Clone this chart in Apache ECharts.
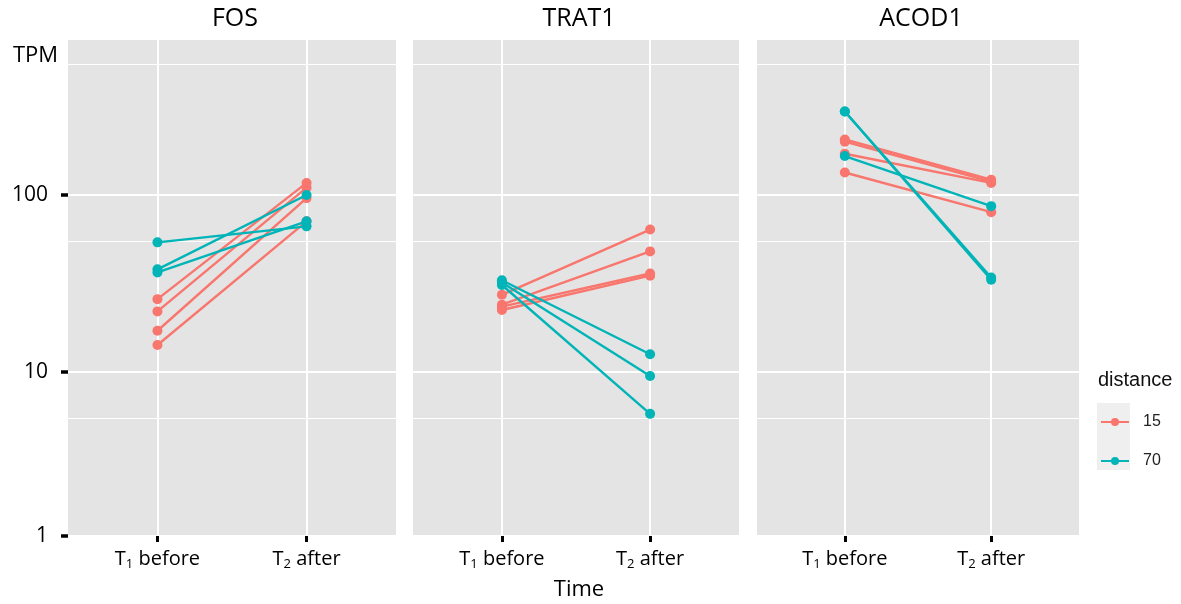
<!DOCTYPE html>
<html>
<head>
<meta charset="utf-8">
<script src="https://cdn.jsdelivr.net/npm/echarts@6/dist/echarts.min.js"></script>
<style>
  html, body { margin: 0; padding: 0; background: #fff; }
  #chart { width: 1181px; height: 604px; }
</style>
</head>
<body>
<div id="chart"></div>
<script>
// panels and x categories
var genes = ['FOS', 'TRAT1', 'ACOD1'];
var timeSub = ['1', '2'];
var timeWords = [' before', ' after'];
var distances = ['15', '70'];
var yTickLabels = ['1', '10', '100'];

// TPM values (T1 before -> T2 after)
var fosBefore15 = [25.8, 22.0, 17.1, 14.2];
var fosAfter15 = [117, 110, 96, 71];
var fosBefore70 = [54, 38, 36.5];
var fosAfter70 = [66.5, 100, 71];

var trat1Before15 = [27.3, 24.0, 23.4, 22.4];
var trat1After15 = [63.8, 48, 36, 35];
var trat1Before70 = [33, 32, 31];
var trat1After70 = [12.6, 9.5, 5.8];

var acod1Before15 = [206, 200, 171, 134];
var acod1After15 = [122, 119, 117, 80];
var acod1Before70 = [296, 296, 166];
var acod1After70 = [34.2, 33.2, 86.5];

var before15 = [fosBefore15, trat1Before15, acod1Before15];
var after15 = [fosAfter15, trat1After15, acod1After15];
var before70 = [fosBefore70, trat1Before70, acod1Before70];
var after70 = [fosAfter70, trat1After70, acod1After70];

var colors = { '15': '#F8766D', '70': '#00B4B7' };
var calibriLike = '"Open Sans", "Noto Sans", sans-serif';
var arialLike = '"Liberation Sans", Arial, sans-serif';

// y range of the panel (log scale), a bit wider than 1..1000 like ggplot
var yMin = 1.184, yMax = 751;

var panels = [
  { left: 68, width: 328 },
  { left: 413, width: 326 },
  { left: 757, width: 322 }
];

var grids = [], xAxes = [], yAxes = [], series = [], titles = [];

panels.forEach(function (p, g) {
  grids.push({
    left: p.left, top: 40, width: p.width, height: 496,
    show: true, backgroundColor: '#E4E4E4', borderWidth: 0
  });
  titles.push({
    text: genes[g], left: p.left + p.width / 2 + 3, top: 6, textAlign: 'center', padding: 0,
    textStyle: { fontFamily: calibriLike, fontWeight: 'normal', fontSize: 25, color: '#000' }
  });
  xAxes.push({
    gridIndex: g, type: 'value', min: 0.4, max: 2.6,
    axisLine: { show: false },
    axisTick: { show: true, customValues: [1, 2], length: 6, lineStyle: { color: '#000', width: 3 } },
    axisLabel: {
      customValues: [1, 2], margin: 11,
      formatter: function (v) {
        var i = Math.round(v) - 1;
        return '{t|T}{s|' + timeSub[i] + '}{t|' + timeWords[i] + '}';
      },
      rich: {
        t: { fontFamily: calibriLike, fontSize: 20, lineHeight: 24, color: '#000' },
        s: { fontFamily: calibriLike, fontSize: 13, lineHeight: 10, verticalAlign: 'bottom', color: '#000' }
      }
    },
    splitLine: { show: true, lineStyle: { color: '#fff', width: 2 } }
  });
  yAxes.push({
    gridIndex: g, type: 'log', logBase: 10, min: yMin, max: yMax,
    axisLine: { show: false },
    axisTick: {
      show: g === 0, customValues: [yMin, 10, 100], length: 7,
      lineStyle: { color: '#000', width: 3.5 }
    },
    axisLabel: {
      show: g === 0, customValues: [yMin, 10, 100], margin: 20,
      fontFamily: calibriLike, fontSize: 21, color: '#000',
      formatter: function (v) {
        return v < 2 ? yTickLabels[0] : (v < 20 ? yTickLabels[1] : yTickLabels[2]);
      }
    },
    splitLine: { show: true, lineStyle: { color: '#fff', width: 2 } },
    minorTick: { show: false, splitNumber: 2 },
    minorSplitLine: { show: true, lineStyle: { color: '#fff', width: 1.2 } }
  });

  [[before15, after15, '15'], [before70, after70, '70']].forEach(function (d) {
    var b = d[0][g], a = d[1][g], name = d[2];
    for (var i = 0; i < b.length; i++) {
      series.push({
        type: 'line', name: name, xAxisIndex: g, yAxisIndex: g,
        data: [[1, b[i]], [2, a[i]]],
        symbol: 'circle', symbolSize: 10, showSymbol: true,
        itemStyle: { color: colors[name] },
        lineStyle: { color: colors[name], width: 2.4 },
        z: name === '70' ? 4 : 3
      });
    }
  });
});

titles.push({
  text: 'TPM', left: 13, top: 45, padding: 0,
  textStyle: { fontFamily: calibriLike, fontWeight: 'normal', fontSize: 22, color: '#000' }
});
titles.push({
  text: 'Time', left: 579, top: 579, textAlign: 'center', padding: 0,
  textStyle: { fontFamily: calibriLike, fontWeight: 'normal', fontSize: 22, color: '#000' }
});
titles.push({
  text: 'distance', left: 1098, top: 370, padding: 0,
  textStyle: { fontFamily: arialLike, fontWeight: 'normal', fontSize: 20, color: '#111' }
});

var chart = echarts.init(document.getElementById('chart'));
chart.setOption({
  animation: false,
  backgroundColor: '#fff',
  title: titles,
  grid: grids,
  xAxis: xAxes,
  yAxis: yAxes,
  legend: {
    data: distances,
    orient: 'vertical', left: 1100, top: 414, padding: 0,
    itemWidth: 28, itemHeight: 10, itemGap: 23,
    textStyle: { fontFamily: arialLike, fontSize: 16, color: '#222', padding: [0, 0, 0, 9] }
  },
  graphic: [
    { type: 'rect', left: 1097, top: 403, shape: { width: 33, height: 67 }, style: { fill: '#EFEFEF' }, z: -1 }
  ],
  series: series
});
</script>
</body>
</html>
